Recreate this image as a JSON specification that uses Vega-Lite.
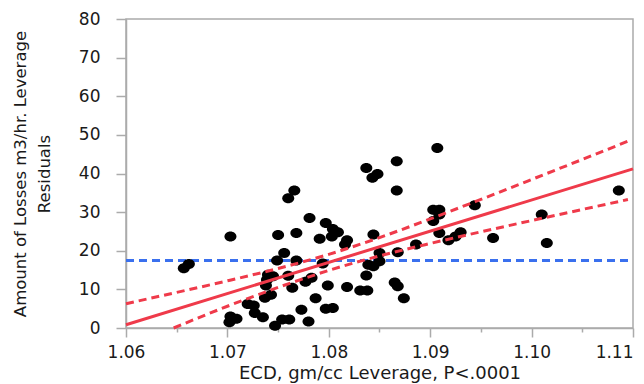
{
  "$schema": "https://vega.github.io/schema/vega-lite/v6.json",
  "width": 507,
  "height": 309,
  "autosize": {"type": "none"},
  "padding": {"left": 126, "top": 19, "right": 11, "bottom": 56},
  "background": "white",
  "config": {
    "view": {"stroke": "#ababab", "strokeWidth": 1.5},
    "font": "DejaVu Sans",
    "axis": {
      "labelFont": "DejaVu Sans",
      "labelFontSize": 17,
      "labelColor": "#1a1a1a",
      "titleFont": "DejaVu Sans",
      "titleFontSize": 16,
      "titleFontWeight": "normal",
      "titleColor": "#1a1a1a",
      "domainColor": "#ababab",
      "domainWidth": 1.5,
      "tickColor": "#ababab",
      "tickWidth": 1.5,
      "grid": false
    }
  },
  "datasets": {
    "pts": [
      {"x": 1.0657, "y": 15.5}, {"x": 1.0662, "y": 16.6}, {"x": 1.0703, "y": 23.7}, {"x": 1.0702, "y": 1.5},
      {"x": 1.0703, "y": 3.0}, {"x": 1.0709, "y": 2.4}, {"x": 1.0720, "y": 6.2}, {"x": 1.0726, "y": 5.8},
      {"x": 1.0727, "y": 3.9}, {"x": 1.0735, "y": 2.8}, {"x": 1.0737, "y": 7.8}, {"x": 1.0743, "y": 8.6},
      {"x": 1.0738, "y": 11.0}, {"x": 1.0739, "y": 12.5}, {"x": 1.0740, "y": 13.8}, {"x": 1.0745, "y": 13.4},
      {"x": 1.0747, "y": 0.6}, {"x": 1.0749, "y": 17.5}, {"x": 1.0750, "y": 24.1}, {"x": 1.0754, "y": 2.2},
      {"x": 1.0756, "y": 19.4}, {"x": 1.0761, "y": 2.2}, {"x": 1.0760, "y": 13.5}, {"x": 1.0760, "y": 33.6},
      {"x": 1.0766, "y": 35.6}, {"x": 1.0764, "y": 10.4}, {"x": 1.0768, "y": 24.6}, {"x": 1.0768, "y": 17.5},
      {"x": 1.0773, "y": 4.7}, {"x": 1.0777, "y": 12.0}, {"x": 1.0783, "y": 13.0}, {"x": 1.0780, "y": 1.7},
      {"x": 1.0781, "y": 28.5}, {"x": 1.0787, "y": 7.7}, {"x": 1.0791, "y": 23.1}, {"x": 1.0794, "y": 16.7},
      {"x": 1.0797, "y": 27.2}, {"x": 1.0799, "y": 11.0}, {"x": 1.0797, "y": 5.0}, {"x": 1.0804, "y": 5.2},
      {"x": 1.0804, "y": 25.6}, {"x": 1.0803, "y": 23.7}, {"x": 1.0809, "y": 24.8}, {"x": 1.0816, "y": 21.6},
      {"x": 1.0818, "y": 22.7}, {"x": 1.0818, "y": 10.6}, {"x": 1.0831, "y": 9.7}, {"x": 1.0838, "y": 9.7},
      {"x": 1.0837, "y": 41.4}, {"x": 1.0843, "y": 38.9}, {"x": 1.0848, "y": 39.9}, {"x": 1.0837, "y": 13.6},
      {"x": 1.0839, "y": 16.4}, {"x": 1.0844, "y": 16.0}, {"x": 1.0844, "y": 24.2}, {"x": 1.0850, "y": 19.4},
      {"x": 1.0850, "y": 17.3}, {"x": 1.0867, "y": 43.2}, {"x": 1.0867, "y": 35.6}, {"x": 1.0868, "y": 19.6},
      {"x": 1.0865, "y": 11.8}, {"x": 1.0868, "y": 10.8}, {"x": 1.0874, "y": 7.7}, {"x": 1.0886, "y": 21.6},
      {"x": 1.0907, "y": 46.6}, {"x": 1.0903, "y": 30.6}, {"x": 1.0909, "y": 30.6}, {"x": 1.0909, "y": 29.4},
      {"x": 1.0903, "y": 27.7}, {"x": 1.0909, "y": 24.6}, {"x": 1.0918, "y": 22.7}, {"x": 1.0925, "y": 23.7},
      {"x": 1.0930, "y": 24.8}, {"x": 1.0944, "y": 31.8}, {"x": 1.0962, "y": 23.3}, {"x": 1.1010, "y": 29.4},
      {"x": 1.1015, "y": 22.0}, {"x": 1.1086, "y": 35.6}
    ],
    "fit": [
      {"x": 1.06, "y": 0.85}, {"x": 1.11, "y": 41.2}
    ],
    "upper": [
      {"x": 1.060, "y": 6.30}, {"x": 1.065, "y": 9.22}, {"x": 1.070, "y": 12.21}, {"x": 1.075, "y": 15.41},
      {"x": 1.080, "y": 19.07}, {"x": 1.085, "y": 23.40}, {"x": 1.090, "y": 28.24}, {"x": 1.095, "y": 33.30},
      {"x": 1.100, "y": 38.45}, {"x": 1.105, "y": 43.64}, {"x": 1.1095, "y": 48.35}
    ],
    "lower": [
      {"x": 1.0647, "y": 0.0}, {"x": 1.070, "y": 5.63}, {"x": 1.075, "y": 10.50},
      {"x": 1.080, "y": 14.91}, {"x": 1.085, "y": 18.65}, {"x": 1.090, "y": 21.88}, {"x": 1.095, "y": 24.90},
      {"x": 1.100, "y": 27.81}, {"x": 1.105, "y": 30.69}, {"x": 1.1095, "y": 33.25}
    ],
    "mean": [
      {"x": 1.06, "y": 17.5}, {"x": 1.11, "y": 17.5}
    ]
  },
  "encoding": {
    "x": {"field": "x", "type": "quantitative",
      "scale": {"domain": [1.06, 1.11], "nice": false, "zero": false},
      "axis": {
        "values": [1.06, 1.065, 1.07, 1.075, 1.08, 1.085, 1.09, 1.095, 1.10, 1.105, 1.11],
        "labelExpr": "round(datum.value*1000) % 10 == 5 ? '' : format(datum.value, '.2f')",
        "labelOverlap": false,
        "labelAlign": {"condition": {"test": "datum.value > 1.108", "value": "right"}, "value": "center"},
        "tickSize": {"condition": {"test": "round(datum.value*1000) % 10 == 5", "value": 4}, "value": 9},
        "labelPadding": 7,
        "title": "ECD, gm/cc Leverage, P<.0001",
        "titleFontSize": 18,
        "titlePadding": 4
      }},
    "y": {"field": "y", "type": "quantitative",
      "scale": {"domain": [0, 80], "nice": false},
      "axis": {
        "values": [0, 10, 20, 30, 40, 50, 60, 70, 80],
        "tickSize": 10, "labelPadding": 16,
        "title": ["Amount of Losses m3/hr. Leverage", "Residuals"],
        "titleFontSize": 16.5,
        "titleLineHeight": 24, "titlePadding": 26
      }}
  },
  "layer": [
    {
      "data": {"name": "mean"},
      "mark": {"type": "line", "color": "#3a70ee", "strokeWidth": 3, "strokeDash": [8, 5]}
    },
    {
      "data": {"name": "pts"},
      "mark": {"type": "point", "filled": true, "color": "black", "opacity": 1, "size": 100,
        "shape": "M-1.2,0 A1.2,1 0 1,1 1.2,0 A1.2,1 0 1,1 -1.2,0 Z"}
    },
    {
      "data": {"name": "fit"},
      "mark": {"type": "line", "color": "#ef3a4a", "strokeWidth": 3}
    },
    {
      "data": {"name": "upper"},
      "mark": {"type": "line", "color": "#ef3a4a", "strokeWidth": 3, "strokeDash": [8, 5], "interpolate": "monotone"}
    },
    {
      "data": {"name": "lower"},
      "mark": {"type": "line", "color": "#ef3a4a", "strokeWidth": 3, "strokeDash": [8, 5], "interpolate": "monotone"}
    }
  ]
}
